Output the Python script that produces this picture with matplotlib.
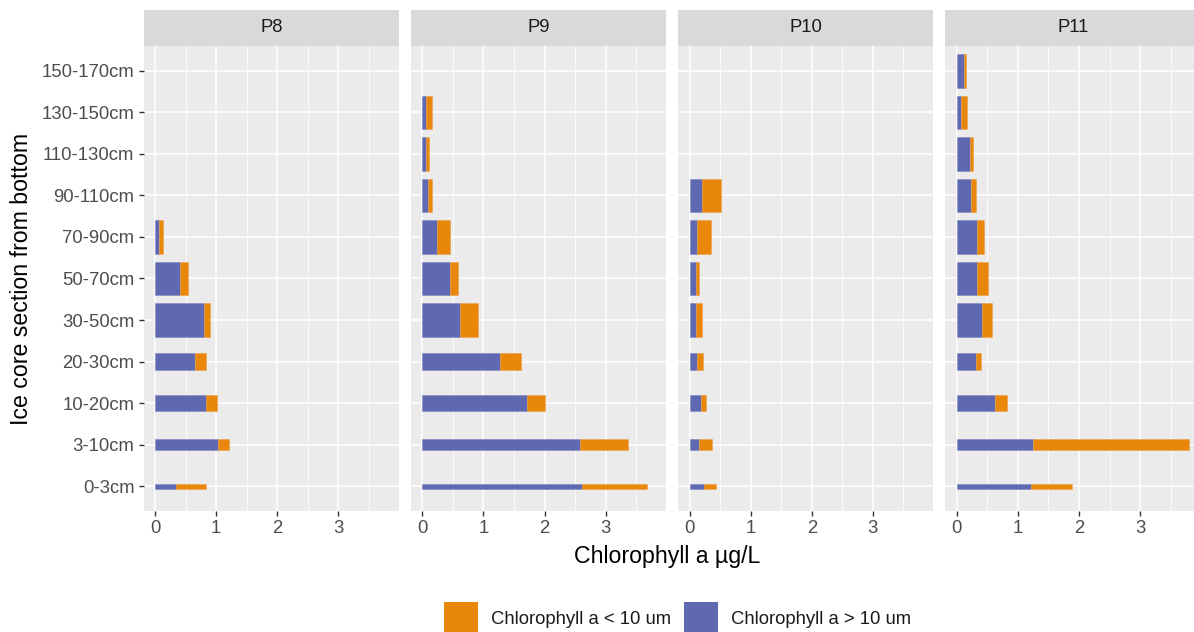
import numpy as np
import matplotlib.pyplot as plt
from matplotlib.patches import Rectangle

plt.rcParams['font.family'] = ['Liberation Sans', 'DejaVu Sans']

# ice core sections, bottom first, and their thickness in cm (bar height scales with it)
sections = ['0-3cm', '3-10cm', '10-20cm', '20-30cm', '30-50cm', '50-70cm',
            '70-90cm', '90-110cm', '110-130cm', '130-150cm', '150-170cm']
thickness = [3, 7, 10, 10, 20, 20, 20, 20, 20, 20, 20]
stations = ['P8', 'P9', 'P10', 'P11']
nan = np.nan

# Chlorophyll a > 10 um
large = {
    'P8':  [0.34, 1.03, 0.83, 0.65, 0.80, 0.40, 0.065, nan, nan, nan, nan],
    'P9':  [2.61, 2.58, 1.72, 1.27, 0.62, 0.45, 0.24, 0.10, 0.066, 0.066, nan],
    'P10': [0.235, 0.15, 0.19, 0.12, 0.10, 0.11, 0.12, 0.21, nan, nan, nan],
    'P11': [1.21, 1.24, 0.63, 0.31, 0.42, 0.33, 0.34, 0.23, 0.21, 0.076, 0.125],
}
# Chlorophyll a < 10 um
small = {
    'P8':  [0.49, 0.18, 0.19, 0.19, 0.10, 0.13, 0.065, nan, nan, nan, nan],
    'P9':  [1.06, 0.79, 0.28, 0.35, 0.29, 0.13, 0.21, 0.06, 0.05, 0.09, nan],
    'P10': [0.205, 0.22, 0.08, 0.10, 0.11, 0.04, 0.225, 0.30, nan, nan, nan],
    'P11': [0.67, 2.56, 0.19, 0.08, 0.15, 0.19, 0.10, 0.08, 0.06, 0.094, 0.035],
}

col_small = '#E8870A'
col_large = '#5E69B2'
txt_col = '#4D4D4D'

W, H = 1194, 632
fig = plt.figure(figsize=(W / 100, H / 100), dpi=100)

left = 143.5
top, bottom = 46, 511
gap = 11.7
pw = 255.5
ph = bottom - top

y = np.arange(len(sections))
heights = np.array(thickness) * 0.04

for i, st in enumerate(stations):
    x0 = left + i * (pw + gap)
    ax = fig.add_axes([x0 / W, 1 - bottom / H, pw / W, ph / H])
    ax.set_facecolor('#EBEBEB')
    for s in ax.spines.values():
        s.set_visible(False)
    ax.set_xlim(-0.19, 3.99)
    ax.set_ylim(-0.6, len(sections) - 0.4)
    ax.set_xticks([0, 1, 2, 3])
    ax.set_xticks([0.5, 1.5, 2.5, 3.5], minor=True)
    ax.set_yticks(y)
    ax.grid(which='major', color='white', lw=1.1)
    ax.grid(which='minor', axis='x', color='white', lw=0.55)
    ax.set_axisbelow(True)
    ax.tick_params(which='major', length=3.5, width=1, color='#333333',
                   labelsize=13.3, labelcolor=txt_col, pad=3)
    ax.tick_params(which='minor', length=0)
    if i == 0:
        ax.set_yticklabels(sections)
    else:
        ax.tick_params(axis='y', length=0, labelleft=False)

    lg = np.array(large[st])
    sm = np.array(small[st])
    ax.barh(y, lg, height=heights, color=col_large, edgecolor='#7F88C2', lw=0.4)
    ax.barh(y, sm, left=lg, height=heights, color=col_small, edgecolor='#EDA04A', lw=0.4)

    # facet strip
    ax.add_patch(Rectangle((0, 1), 1, 36 / ph, transform=ax.transAxes,
                           facecolor='#D9D9D9', edgecolor='none', clip_on=False))
    ax.text(0.5, 1 + 18 / ph, st, transform=ax.transAxes, ha='center', va='center',
            fontsize=13.3, color='#1A1A1A')

fig.text(667 / W, 1 - 557 / H, 'Chlorophyll a µg/L',
         ha='center', va='center', fontsize=16.7)
fig.text(22 / W, 1 - (top + bottom) / 2 / H, 'Ice core section from bottom',
         ha='center', va='center', rotation=90, fontsize=16.7)

# legend at the bottom
for kx, lab, c in [(444, 'Chlorophyll a < 10 um', col_small),
                   (684, 'Chlorophyll a > 10 um', col_large)]:
    fig.patches.append(Rectangle((kx / W, 1 - 636 / H), 34 / W, 34 / H,
                                 transform=fig.transFigure, facecolor=c,
                                 edgecolor='none'))
    fig.text((kx + 47) / W, 1 - 620 / H, lab, ha='left', va='center',
             fontsize=13.3, color='#1A1A1A')

fig.savefig('out.png', dpi=100)
